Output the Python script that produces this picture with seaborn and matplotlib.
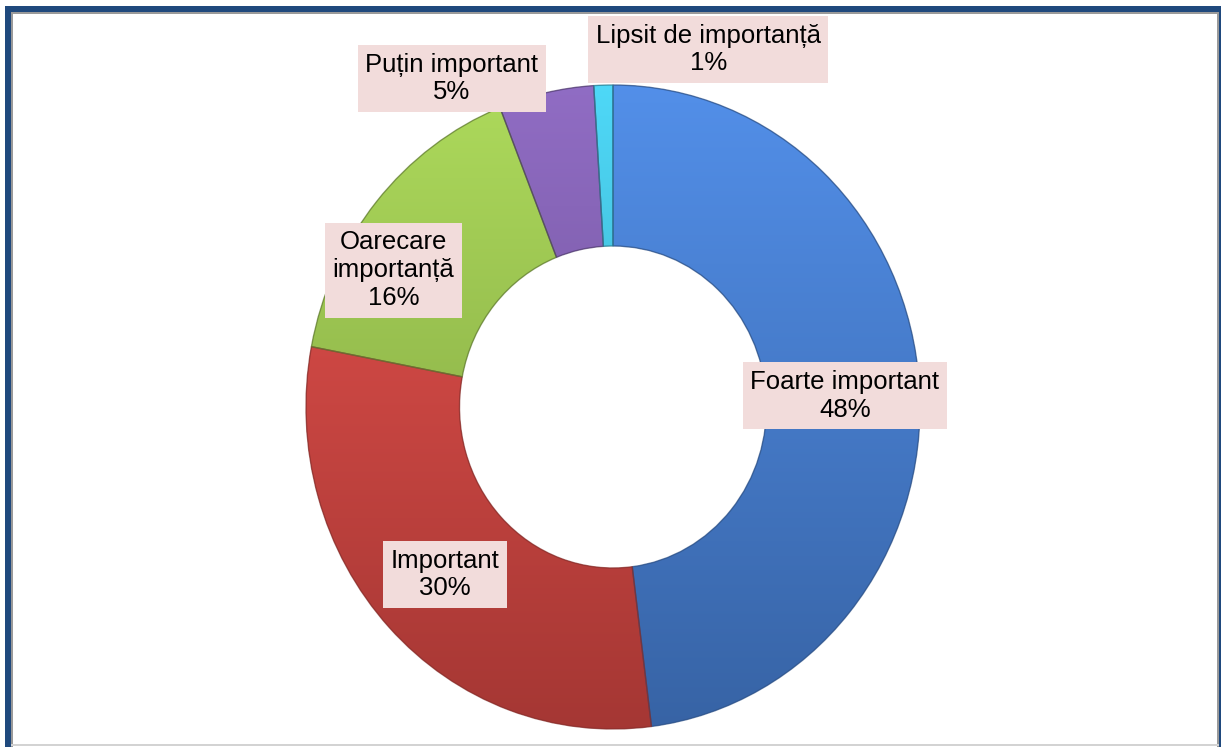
import numpy as np
import matplotlib
matplotlib.use("Agg")
import matplotlib.pyplot as plt
import matplotlib.colors as mcolors
from matplotlib.patches import Rectangle, PathPatch
import seaborn as sns

# Survey answers: how important the topic is to respondents
categories = ["Foarte important", "Important", "Oarecare importanță",
              "Puțin important", "Lipsit de importanță"]
shares = [48, 30, 16, 5, 1]
label_texts = ["Foarte important\n48%", "Important\n30%", "Oarecare\nimportanță\n16%",
               "Puțin important\n5%", "Lipsit de importanță\n1%"]

palette = sns.color_palette(["#4379C9", "#C9433F", "#94BC4B", "#7A5AA8", "#3FBAD6"])

# label anchor positions (data units, ring centred on 0,0)
label_pos = [(0.755, 0.035), (-0.547, -0.52), (-0.715, 0.425),
             (-0.525, 1.02), (0.31, 1.11)]

sns.set_theme(style="white")
plt.rcParams["font.family"] = ["Liberation Sans", "DejaVu Sans"]

W, H = 1221, 747
fig = plt.figure(figsize=(W / 100, H / 100), dpi=100)
fig.patch.set_facecolor("white")
ax = fig.add_axes([0, 0, 1, 1])

wedges, _ = ax.pie(shares, colors=palette, startangle=90, counterclock=False,
                   radius=1.0, wedgeprops=dict(width=0.5, linewidth=0))

ax.set_aspect("auto")
cx, cy, rx, ry = 613, 407, 307, 322
ax.set_xlim(-cx / rx, (W - cx) / rx)
ax.set_ylim((cy - H) / ry, cy / ry)
ax.axis("off")

# vertical light-to-dark shading inside each segment, with a darker rim
for w, col in zip(wedges, palette):
    base = np.array(mcolors.to_rgb(col))
    light = np.clip(base * 1.12 + 0.03, 0, 1)
    dark = base * 0.82
    t = np.linspace(0, 1, 256)[:, None]
    grad = light[None, :] * (1 - t) + dark[None, :] * t
    img = ax.imshow(grad[:, None, :].repeat(2, axis=1), extent=(-1, 1, -1, 1),
                    aspect="auto", origin="upper", zorder=w.get_zorder() + 0.1,
                    interpolation="bilinear")
    img.set_clip_path(w)
    ax.add_patch(PathPatch(w.get_path(), transform=w.get_transform(),
                           fill=False, lw=1.0, ec=tuple(base * 0.65),
                           alpha=0.7, zorder=w.get_zorder() + 0.2))

ax.set_xlim(-cx / rx, (W - cx) / rx)
ax.set_ylim((cy - H) / ry, cy / ry)

for txt, (x, y) in zip(label_texts, label_pos):
    ax.text(x, y, txt, ha="center", va="center", fontsize=18.5, color="black",
            linespacing=1.2, zorder=10,
            bbox=dict(boxstyle="square,pad=0.3", fc="#F2DCDB", ec="none"))


def band(x0, y0, x1, y1, color):
    """Filled strip given in pixel coordinates measured from the top-left."""
    fig.add_artist(Rectangle((x0 / W, 1 - y1 / H), (x1 - x0) / W, (y1 - y0) / H,
                             transform=fig.transFigure, fc=color, ec="none",
                             zorder=20))


# outer frame: dark blue band with a thin grey inner edge
blue = "#1F497D"
band(5, 6, W, 12, blue)
band(5, 6, 11, H, blue)
band(1219, 6, W, H, blue)
band(11, 12, 1219, 14, "#9A9A9A")
band(11, 12, 13, H, "#9A9A9A")
band(1217, 12, 1219, H, "#9A9A9A")
band(11, 744, 1219, 746, "#D3D3D3")

fig.savefig("out.png", dpi=100, facecolor="white")
